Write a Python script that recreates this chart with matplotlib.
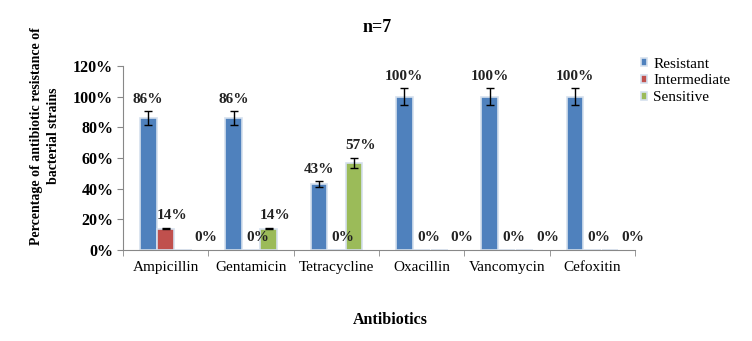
import numpy as np
import matplotlib.pyplot as plt
from matplotlib.ticker import FuncFormatter

plt.rcParams['font.family'] = ['Liberation Serif', 'DejaVu Serif']

antibiotics = ['Ampicillin', 'Gentamicin', 'Tetracycline', 'Oxacillin', 'Vancomycin', 'Cefoxitin']
series = ['Resistant', 'Intermediate', 'Sensitive']
resistant = [86, 86, 43, 100, 100, 100]
intermediate = [14, 0, 0, 0, 0, 0]
sensitive = [0, 14, 57, 0, 0, 0]
err_resistant = [4.5, 4.5, 1.8, 5.5, 5.5, 5.5]
err_intermediate = [0.5, 0, 0, 0, 0, 0]
err_sensitive = [0, 0.5, 3.2, 0, 0, 0]
colors = ['#4F81BD', '#C0504D', '#9BBB59']

values = [resistant, intermediate, sensitive]
errors = [err_resistant, err_intermediate, err_sensitive]

fig = plt.figure(figsize=(7.52, 3.41), dpi=100)
ax = fig.add_axes([0.1636, 0.267, 0.681, 0.539])

x = np.arange(len(antibiotics))
w = 0.205
for i, (vals, errs, c, name) in enumerate(zip(values, errors, colors, series)):
    pos = x + (i - 1) * w
    ax.bar(pos, vals, width=w * 0.95, color=c, edgecolor='#d5e0ee', linewidth=1.2,
           label=name, zorder=2)
    vals = np.array(vals)
    errs = np.array(errs)
    nz = vals > 0
    ax.errorbar(pos[nz], vals[nz], yerr=errs[nz], fmt='none', ecolor='black',
                elinewidth=1, capsize=3, capthick=1, zorder=3)
    for p, v, e in zip(pos, vals, errs):
        # nudge the small labels right, as the source chart does
        dx = 0.0 if i == 0 else 0.08
        if i == 2 and v == 0:
            dx = 0.27
        ax.text(p + dx, v + e + 8, '%d%%' % v, ha='center', va='center',
                fontsize=11, fontweight='bold', color='#222222')

ax.set_xlim(-0.5, len(antibiotics) - 0.5)
ax.set_ylim(0, 120)
ax.set_yticks(np.arange(0, 121, 20))
ax.yaxis.set_major_formatter(FuncFormatter(lambda v, _: '%d%%' % v))
ax.set_xticks(x)
ax.set_xticklabels(antibiotics, fontsize=11)
ax.set_xticks(np.arange(-0.5, len(antibiotics), 1), minor=True)
ax.tick_params(axis='x', which='major', length=0, pad=8)
ax.tick_params(axis='x', which='minor', length=4, color='#888888')
ax.tick_params(axis='y', length=4, color='#888888', pad=3)
for lab in ax.get_yticklabels():
    lab.set_fontweight('bold')
    lab.set_fontsize(11.5)

for s in ['top', 'right']:
    ax.spines[s].set_visible(False)
for s in ['left', 'bottom']:
    ax.spines[s].set_color('#888888')

fig.text(377 / 752, 1 - 28 / 341, 'n=7', ha='center', va='center',
         fontsize=13, fontweight='bold')
fig.text(390 / 752, 1 - 320 / 341, 'Antibiotics', ha='center', va='center',
         fontsize=11.5, fontweight='bold')
ax.set_ylabel('Percentage of antibiotic resistance of\nbacterial strains',
              fontsize=10, fontweight='bold', linespacing=1.4)
ax.yaxis.set_label_coords(-0.123, 0.62)

ax.legend(loc='upper left', bbox_to_anchor=(1.0, 1.08), frameon=False,
          fontsize=11, handlelength=0.4, handleheight=0.4, handletextpad=0.4,
          labelspacing=0.25, borderaxespad=0)

fig.savefig('out.png', dpi=100)
